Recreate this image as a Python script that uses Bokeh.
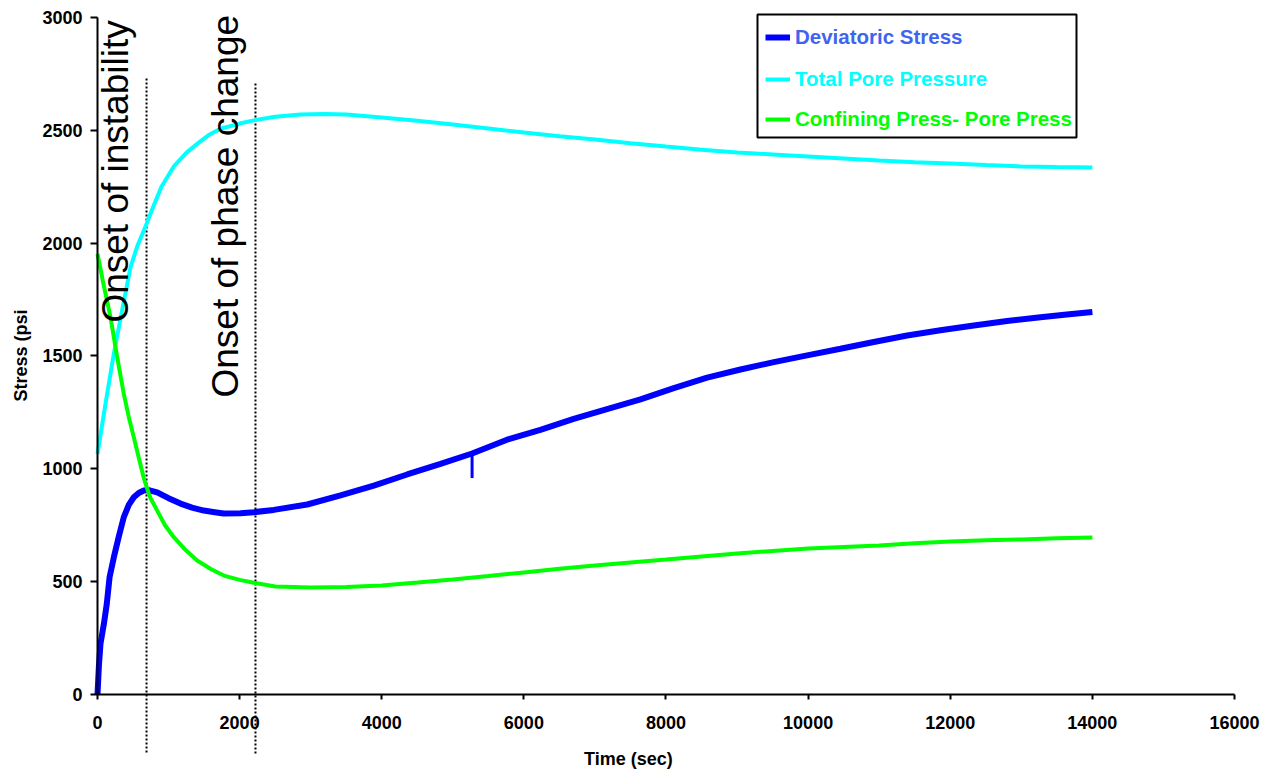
import math
from bokeh.plotting import figure
from bokeh.models import Range1d, FixedTicker, Label, Legend, LegendItem, BoxAnnotation
from bokeh.embed import file_html
from bokeh.resources import INLINE

# ---------------- data ----------------
time_dev = [0, 20, 42, 90, 130, 170, 230, 300, 370, 440, 511, 580, 652, 720, 840,
            1000, 1168, 1330, 1495, 1650, 1775, 2012, 2200, 2481, 2951, 3420, 3888,
            4357, 4827, 5271, 5763, 6232, 6701, 7170, 7641, 8110, 8579, 9048, 9517,
            9986, 10455, 10924, 11393, 11862, 12332, 12800, 13270, 13640, 14000]
dev_stress = [0, 128, 225, 313, 400, 520, 608, 700, 786, 840, 874, 893, 904, 906, 896,
              870, 846, 828, 815, 808, 802, 803, 808, 818, 842, 882, 926,
              975, 1022, 1068, 1129, 1173, 1221, 1265, 1308, 1358, 1404, 1440, 1473,
              1503, 1532, 1562, 1591, 1614, 1635, 1655, 1672, 1684, 1695]

spike_time = [5271]
spike_top = [1066]
spike_bottom = [959]

time_pore = [0, 113, 230, 328, 464, 558, 690, 770, 900, 1074, 1250, 1402, 1560, 1731,
             2000, 2200, 2500, 2856, 3200, 3500, 4000, 4500, 5000, 5500, 6000, 6500,
             7000, 7500, 8000, 8500, 9000, 9500, 10000, 10500, 11000, 11500, 12000,
             12500, 13000, 13500, 14000]
pore_pressure = [1066, 1289, 1511, 1672, 1893, 1985, 2085, 2150, 2250, 2340, 2400, 2440,
                 2478, 2507, 2530, 2544, 2560, 2570, 2572, 2570, 2557, 2542, 2526, 2508,
                 2490, 2474, 2459, 2443, 2428, 2414, 2402, 2393, 2384, 2375, 2366, 2359,
                 2353, 2346, 2340, 2337, 2335]

time_conf = [0, 90, 183, 277, 370, 440, 511, 580, 652, 740, 840, 950, 1074, 1240, 1402,
             1600, 1777, 2000, 2200, 2500, 3000, 3500, 4000, 4500, 5000, 5500, 6000,
             6500, 7000, 7500, 8000, 8500, 9000, 9500, 10000, 10500, 11000, 11500,
             12000, 12500, 13000, 13500, 14000]
conf_minus_pore = [1953, 1810, 1672, 1495, 1332, 1230, 1140, 1050, 958, 874, 815, 750,
                   697, 640, 594, 555, 527, 508, 495, 479, 474, 476, 483, 496, 510, 525,
                   541, 557, 572, 585, 598, 612, 625, 636, 647, 654, 660, 670, 678, 683,
                   687, 692, 696]

onset_times = [690, 2223]
onset_tops = [2738, 2716]
onset_bottoms = [-257, -261]
onset_labels = ["Onset of instability", "Onset of phase change"]
onset_label_x = [250, 1798]
onset_label_y = [1648, 1316]

series_names = ["Deviatoric Stress", "Total Pore Pressure", "Confining Press- Pore Press"]
series_colors = ["#0000FF", "#00FFFF", "#00FF00"]
legend_text_colors = ["#4064F0", "#00FFFF", "#00FF00"]

x_ticks = [0, 2000, 4000, 6000, 8000, 10000, 12000, 14000, 16000]
y_ticks = [0, 500, 1000, 1500, 2000, 2500, 3000]

FONT = "Liberation Sans"

# ---------------- figure (frame = whole canvas, axes fixed at zero) ----------------
p = figure(width=1266, height=771, output_backend="svg", toolbar_location=None,
           x_range=Range1d(-1365.0, 16450.4), y_range=Range1d(-341.2, 3075.3),
           min_border_left=0, min_border_right=0, min_border_top=0, min_border_bottom=0)
p.grid.visible = False
p.outline_line_color = None
p.background_fill_color = "white"
p.border_fill_color = "white"

for ax in (p.xaxis[0], p.yaxis[0]):
    ax.axis_line_width = 2
    ax.axis_line_color = "black"
    ax.major_tick_line_width = 2
    ax.major_tick_line_color = "black"
    ax.minor_tick_line_color = None
    ax.major_tick_in = 0
    ax.major_label_text_font = FONT
    ax.major_label_text_font_style = "bold"
    ax.major_label_text_font_size = "18px"
    ax.major_label_text_color = "black"

p.xaxis.ticker = FixedTicker(ticks=x_ticks)
p.xaxis.bounds = (0, 16000)
p.xaxis.fixed_location = 0
p.xaxis.major_tick_out = 5
p.xaxis.major_label_standoff = 16

p.yaxis.ticker = FixedTicker(ticks=y_ticks)
p.yaxis.bounds = (0, 3000)
p.yaxis.fixed_location = 0
p.yaxis.major_tick_out = 7
p.yaxis.major_label_standoff = 8

# onset markers
p.segment(x0=onset_times, y0=onset_bottoms, x1=onset_times, y1=onset_tops,
          line_color="black", line_width=2, line_dash="2 2")

# series
r_dev = p.line(time_dev, dev_stress, line_color=series_colors[0], line_width=6)
p.segment(x0=spike_time, y0=spike_top, x1=spike_time, y1=spike_bottom,
          line_color=series_colors[0], line_width=3)
r_pore = p.line(time_pore, pore_pressure, line_color=series_colors[1], line_width=4)
r_conf = p.line(time_conf, conf_minus_pore, line_color=series_colors[2], line_width=4)
renderers = [r_dev, r_pore, r_conf]

# onset labels
for txt, lx, ly in zip(onset_labels, onset_label_x, onset_label_y):
    p.add_layout(Label(x=lx, y=ly, text=txt, angle=math.pi / 2,
                       text_font=FONT, text_font_size="37px", text_color="black",
                       text_align="left", text_baseline="alphabetic"))

# axis titles
p.add_layout(Label(x=7472, y=-284, text="Time (sec)", text_font=FONT,
                   text_font_style="bold", text_font_size="18px", text_color="black",
                   text_align="center", text_baseline="middle"))
p.add_layout(Label(x=-1076.5, y=1502, text="Stress (psi", angle=math.pi / 2,
                   text_font=FONT, text_font_style="bold", text_font_size="18px",
                   text_color="black", text_align="center", text_baseline="middle"))

# legend box
p.add_layout(BoxAnnotation(left=9287.5, right=13776.6, top=3013.3, bottom=2468.3,
                           fill_color="white", fill_alpha=1.0,
                           line_color="black", line_alpha=1.0, line_width=2))

legend_bottoms = [722, 680, 640]
for name, rend, tcol, vy in zip(series_names, renderers, legend_text_colors, legend_bottoms):
    lg = Legend(items=[LegendItem(label=name, renderers=[rend])],
                location=(765, vy), padding=0, spacing=0, margin=0,
                glyph_width=25, glyph_height=22, label_height=22, label_standoff=5,
                label_text_font=FONT, label_text_font_style="bold",
                label_text_font_size="20.5px", label_text_color=tcol,
                border_line_color=None, background_fill_alpha=0)
    p.add_layout(lg, "center")

open("out.html", "w").write(file_html(p, INLINE))
